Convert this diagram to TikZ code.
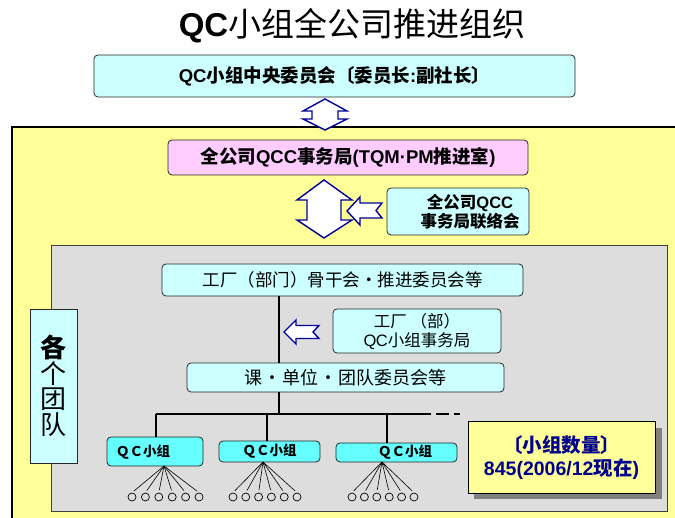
\documentclass[tikz,border=0pt]{standalone}
\usepackage{fontspec}
\setmainfont{Noto Sans CJK SC}
\newfontfamily\lat{Liberation Sans}
\definecolor{cyanL}{RGB}{204,255,255}
\definecolor{cyanM}{RGB}{102,255,255}
\definecolor{pinkL}{RGB}{255,204,255}
\definecolor{yel}{RGB}{255,255,153}
\definecolor{grayA}{RGB}{221,221,221}
\definecolor{arrB}{RGB}{0,0,153}
\definecolor{navyT}{RGB}{0,0,140}
\newcommand\fsz[2]{\fontsize{#1}{#2}\selectfont}
\begin{document}
\begin{tikzpicture}[x=1pt,y=-1pt,
  box/.style={draw=black!85, rounded corners=4pt, line width=0.8pt, inner sep=0pt, align=center},
  bluearrow/.style={draw=arrB, fill=white, line width=1.4pt, line join=miter},
  conn/.style={draw=black, line width=1.6pt},
  fan/.style={draw=black, line width=0.6pt},
  dot/.style={circle, draw=black, line width=0.7pt, minimum size=8pt, inner sep=0pt}]
\useasboundingbox (0,0) rectangle (675,518);
\fill[white] (0,0) rectangle (675,518);

% title
\node (title) at (352,26) {\fsz{33}{36}{\lat\bfseries QC}小组全公司推进组织};

% regions
\draw[fill=yel, draw=black, line width=1.6pt] (12,127) -- (12,530) -- (690,530) -- (690,127) -- cycle;
\draw[fill=grayA, draw=black!75, line width=1pt] (51,246) rectangle (667,511);

% top box
\node[box, fill=cyanL, minimum width=481pt, minimum height=42pt] (top) at (334.5,76)
  {\fsz{18.5}{20}\bfseries{\lat QC}小组中央委员会〔委员长{\lat :}副社长〕};

% double arrow 1
\draw[bluearrow] (325,99) -- (347,111) -- (338,111) -- (338,119) -- (347,119) -- (325,130)
  -- (303,119) -- (312,119) -- (312,111) -- (303,111) -- cycle;

% pink box
\node[box, fill=pinkL, minimum width=360pt, minimum height=35pt] (pink) at (348,157.5)
  {\fsz{18.5}{20}\bfseries 全公司{\lat QCC}事务局{\lat (TQM·PM}推进室{\lat )}};

% double arrow 2
\draw[bluearrow] (324,180) -- (352,200) -- (341,200) -- (341,220) -- (352,220) -- (324,238)
  -- (297,220) -- (307,220) -- (307,200) -- (297,200) -- cycle;

% liaison box
\node[box, fill=cyanL, minimum width=142pt, minimum height=47pt] (liai) at (458,211.5) {};
\node[align=center, inner sep=0pt, font=\fsz{16.5}{19}\bfseries] (liait) at (470,211.5)
  {全公司{\lat QCC}\\事务局联络会};
% left arrow 1
\draw[bluearrow] (347,211) -- (360,197) -- (360,203) -- (382,203) -- (376,210.5) -- (382,218)
  -- (360,218) -- (360,225) -- cycle;

% team box
\node[box, rounded corners=0pt, fill=cyanL, minimum width=47pt, minimum height=154pt, font=\fsz{26}{25.5}] (team) at (53.5,386)
  {{\bfseries 各}\\个\\团\\队};

% factory box
\node[box, fill=cyanL, minimum width=361pt, minimum height=32pt] (fac) at (342.5,280)
  {\fsz{17.5}{20}工厂（部门）骨干会・推进委员会等};

% factory office box
\node[box, fill=cyanL, minimum width=168pt, minimum height=44pt, font=\fsz{16.5}{19}] (off) at (417,331)
  {工厂\ （部）\\{\lat Q\kern-0.5pt C}小组事务局};
% left arrow 2
\draw[bluearrow] (284,332) -- (296,320) -- (296,325.5) -- (319,325.5) -- (313,332) -- (319,338.5)
  -- (296,338.5) -- (296,344) -- cycle;

% section box
\node[box, fill=cyanL, minimum width=317pt, minimum height=29pt] (sec) at (345.5,377.5)
  {\fsz{18}{20}课\hspace{1pt}・\hspace{1pt}单位\hspace{1pt}・\hspace{1pt}团队委员会等};

% QC boxes
\node[box, fill=cyanM, minimum width=96pt, minimum height=29pt] (q1) at (155,451.5) {};
\node (q1t) at (143,452) {\fsz{13.5}{15}\bfseries ＱＣ小组};
\node[box, fill=cyanM, minimum width=101pt, minimum height=21pt] (q2) at (269.5,451.5)
  {\fsz{13.5}{15}\bfseries ＱＣ小组};
\node[box, fill=cyanM, minimum width=121pt, minimum height=19pt] (q3) at (396.5,452.5) {};
\node (q3t) at (405,452.5) {\fsz{13.5}{15}\bfseries ＱＣ小组};

% bus connectors
\coordinate (bus) at (279,414);
\coordinate (busL) at (156,414);
\coordinate (d2) at (267,414);
\coordinate (d3) at (387,414);
\coordinate (busR) at (418,414);
\coordinate (busE) at (460,414);
\draw[conn] (fac.south -| bus) -- (sec.north -| bus);
\draw[conn] (sec.south -| bus) -- (bus);
\draw[conn] (busL) -- (busR);
\draw[conn, line width=2.4pt, dash pattern=on 13pt off 5pt] (busR) -- (busE);
\draw[conn] (busL) -- (busL |- q1.north);
\draw[conn] (d2) -- (d2 |- q2.north);
\draw[conn] (d3) -- (d3 |- q3.north);

% fans
\coordinate (a1) at (164,466);
\coordinate (a2) at (263,462);
\coordinate (a3) at (382,462);
\foreach \i in {0,...,5} {
  \node[dot] (c1\i) at ({132+13.4*\i},497) {};
  \node[dot] (c2\i) at ({233+12.8*\i},497) {};
  \node[dot] (c3\i) at ({352+12.4*\i},497) {};
  \draw[fan, shorten >=2.5pt] (a1) -- (c1\i.north);
  \draw[fan, shorten >=2.5pt] (a2) -- (c2\i.north);
  \draw[fan, shorten >=2.5pt] (a3) -- (c3\i.north);
}

% count box
\fill[black!50] (474,428) rectangle (662,499);
\node[draw=black, line width=1pt, fill=yel, minimum width=187pt, minimum height=71pt, inner sep=0pt, align=center,
  text=navyT, font=\fsz{19.5}{23}\bfseries] (cnt) at (561.5,457.5)
  {〔小组数量〕\\{\lat 845(2006/12}现在{\lat )}};
\end{tikzpicture}
\end{document}
